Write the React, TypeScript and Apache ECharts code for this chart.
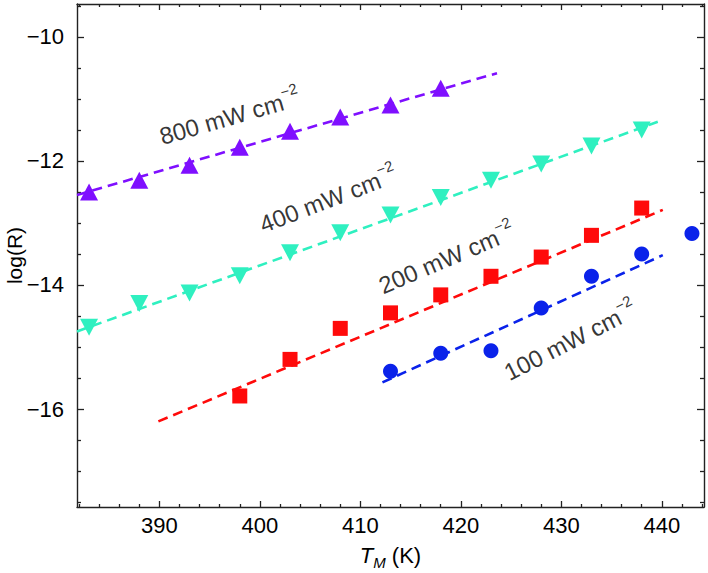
import React, { useEffect, useRef } from "react";
import * as echarts from "echarts";

// ---- data ----
const temps800 = [383, 388, 393, 398, 403, 408, 413, 418];
const logR800 = [-12.5, -12.31, -12.07, -11.78, -11.52, -11.29, -11.1, -10.83];

const temps400 = [383, 388, 393, 398, 403, 408, 413, 418, 423, 428, 433, 438];
const logR400 = [-14.68, -14.3, -14.13, -13.85, -13.48, -13.16, -12.87, -12.59, -12.31, -12.05, -11.76, -11.5];

const temps200 = [398, 403, 408, 413, 418, 423, 428, 433, 438];
const logR200 = [-15.79, -15.2, -14.7, -14.45, -14.16, -13.86, -13.55, -13.2, -12.76];

const temps100 = [413, 418, 423, 428, 433, 438, 443];
const logR100 = [-15.39, -15.1, -15.06, -14.37, -13.86, -13.5, -13.17];

// fitted dashed lines (end points)
const fit800X = [381.8, 423.6];
const fit800Y = [-12.55, -10.585];
const fit400X = [381.8, 439.6];
const fit400Y = [-14.75, -11.37];
const fit200X = [389.9, 440.1];
const fit200Y = [-16.2, -12.79];
const fit100X = [412.2, 440.1];
const fit100Y = [-15.57, -13.52];

// axes
const xMin = 381.8;
const xMax = 444.2;
const yMin = -17.58;
const yMax = -9.47;
const xMajorTicks = [390, 400, 410, 420, 430, 440];
const xMinorTicks = [382, 384, 386, 388, 392, 394, 396, 398, 402, 404, 406, 408, 412, 414, 416, 418, 422, 424, 426, 428, 432, 434, 436, 438, 442, 444];
const yMajorTicks = [-16, -14, -12, -10];
const yMinorTicks = [-17.5, -17, -16.5, -15.5, -15, -14.5, -13.5, -13, -12.5, -11.5, -11, -10.5, -9.5];

// annotation labels: power, anchor (data coords), rotation
const powers = ["800", "400", "200", "100"];
const labelX = [397.0, 406.8, 418.6, 430.9];
const labelY = [-11.29, -12.62, -13.57, -14.9];
const labelRot = [16, 21, 23, 27];

const FONT = "'Liberation Sans', Arial, Helvetica, sans-serif";
const AXIS_COLOR = "#222";
const TEXT_COLOR = "#000";

const zip = (xs: number[], ys: number[]) => xs.map((x, i) => [x, ys[i]]);

export default function App() {
  const ref = useRef<HTMLDivElement>(null);

  useEffect(() => {
    if (!ref.current) return;
    const chart = echarts.init(ref.current, undefined, { renderer: "svg" });

    const gridBox = { left: 77, right: 4, top: 4, bottom: 66, outerBoundsMode: "none" } as any;

    const tickLine = { color: AXIS_COLOR, width: 1.3 };

    const xAxisBase = (gridIndex: number, position: string, ticks: number[], len: number, showLine: boolean, showLabel: boolean) => ({
      type: "value",
      gridIndex,
      position,
      min: xMin,
      max: xMax,
      axisLine: { show: showLine, onZero: false, lineStyle: { color: AXIS_COLOR, width: 1.4 } },
      axisTick: { show: true, inside: true, length: len, customValues: ticks, lineStyle: tickLine },
      axisLabel: {
        show: showLabel,
        customValues: ticks,
        fontSize: 22,
        fontFamily: FONT,
        color: TEXT_COLOR,
        margin: 7,
      },
      splitLine: { show: false },
    });

    const yAxisBase = (gridIndex: number, position: string, ticks: number[], len: number, showLine: boolean, showLabel: boolean) => ({
      type: "value",
      gridIndex,
      position,
      min: yMin,
      max: yMax,
      axisLine: { show: showLine, onZero: false, lineStyle: { color: AXIS_COLOR, width: 1.4 } },
      axisTick: { show: true, inside: true, length: len, customValues: ticks, lineStyle: tickLine },
      axisLabel: {
        show: showLabel,
        customValues: ticks,
        fontSize: 22,
        fontFamily: FONT,
        color: TEXT_COLOR,
        margin: 13,
        formatter: (v: number) => (v < 0 ? "\u2212" + Math.abs(v) : String(v)),
      },
      splitLine: { show: false },
    });

    const xBottom: any = xAxisBase(0, "bottom", xMajorTicks, 6, true, true);
    xBottom.name = "{t|T}{sub|M}{n| (K)}";
    xBottom.nameLocation = "middle";
    xBottom.nameGap = 33;
    xBottom.nameMoveOverlap = false;
    xBottom.nameTextStyle = {
      rich: {
        t: { fontSize: 22, fontStyle: "italic", fontFamily: FONT, color: TEXT_COLOR, lineHeight: 30 },
        sub: { fontSize: 15, fontStyle: "italic", fontFamily: FONT, color: TEXT_COLOR, lineHeight: 15, verticalAlign: "bottom" },
        n: { fontSize: 22, fontFamily: FONT, color: TEXT_COLOR, lineHeight: 30 },
      },
    };

    const yLeft: any = yAxisBase(0, "left", yMajorTicks, 7, true, true);
    yLeft.name = "log(R)";
    yLeft.nameLocation = "middle";
    yLeft.nameGap = 52;
    yLeft.nameMoveOverlap = false;
    yLeft.nameTextStyle = { fontSize: 21, fontFamily: FONT, color: TEXT_COLOR };

    const dashed = (color: string) => ({ color, width: 2.6, type: [10, 6] as any });

    const fitSeries = (xs: number[], ys: number[], color: string) => ({
      type: "line",
      xAxisIndex: 0,
      yAxisIndex: 0,
      data: zip(xs, ys),
      symbol: "none",
      lineStyle: dashed(color),
      z: 2,
      silent: true,
    });

    const pointSeries = (xs: number[], ys: number[], color: string, symbol: string, size: any, rotate = 0) => ({
      type: "scatter",
      xAxisIndex: 0,
      yAxisIndex: 0,
      data: zip(xs, ys),
      symbol,
      symbolSize: size,
      symbolRotate: rotate,
      itemStyle: { color, opacity: 1 },
      z: 3,
    });

    const rich = {
      m: { fontSize: 24, fontFamily: FONT, color: TEXT_COLOR, lineHeight: 34 },
      s: { fontSize: 15, fontFamily: FONT, color: TEXT_COLOR, lineHeight: 16, verticalAlign: "top" },
    };

    const labelSeries = {
      type: "scatter",
      xAxisIndex: 0,
      yAxisIndex: 0,
      symbolSize: 0.1,
      itemStyle: { color: "transparent" },
      silent: true,
      z: 4,
      data: powers.map((p, i) => ({
        value: [labelX[i], labelY[i]],
        label: {
          show: true,
          position: "inside",
          rotate: labelRot[i],
          formatter: `{m|${p} mW cm}{s|\u22122}`,
          rich,
        },
      })),
    };

    const purple = "#7f0fff";
    const cyan = "#2ff0c0";
    const red = "#ff0a0a";
    const blue = "#0a22ea";

    chart.setOption({
      animation: false,
      backgroundColor: "#fff",
      grid: [gridBox, { ...gridBox }],
      xAxis: [
        xBottom,
        xAxisBase(0, "top", xMajorTicks, 6, true, false),
        xAxisBase(1, "bottom", xMinorTicks, 3, false, false),
        xAxisBase(1, "top", xMinorTicks, 3, false, false),
      ],
      yAxis: [
        yLeft,
        yAxisBase(0, "right", yMajorTicks, 7, true, false),
        yAxisBase(1, "left", yMinorTicks, 4, false, false),
        yAxisBase(1, "right", yMinorTicks, 4, false, false),
      ],
      series: [
        fitSeries(fit800X, fit800Y, purple),
        fitSeries(fit400X, fit400Y, cyan),
        fitSeries(fit200X, fit200Y, red),
        fitSeries(fit100X, fit100Y, blue),
        pointSeries(temps800, logR800, purple, "triangle", [18, 17]),
        pointSeries(temps400, logR400, cyan, "triangle", [18, 17], 180),
        pointSeries(temps200, logR200, red, "rect", 15),
        pointSeries(temps100, logR100, blue, "circle", 15),
        labelSeries,
      ],
    } as any);

    return () => chart.dispose();
  }, []);

  return <div ref={ref} style={{ width: 708, height: 573, position: "absolute", left: 0, top: 0 }} />;
}
